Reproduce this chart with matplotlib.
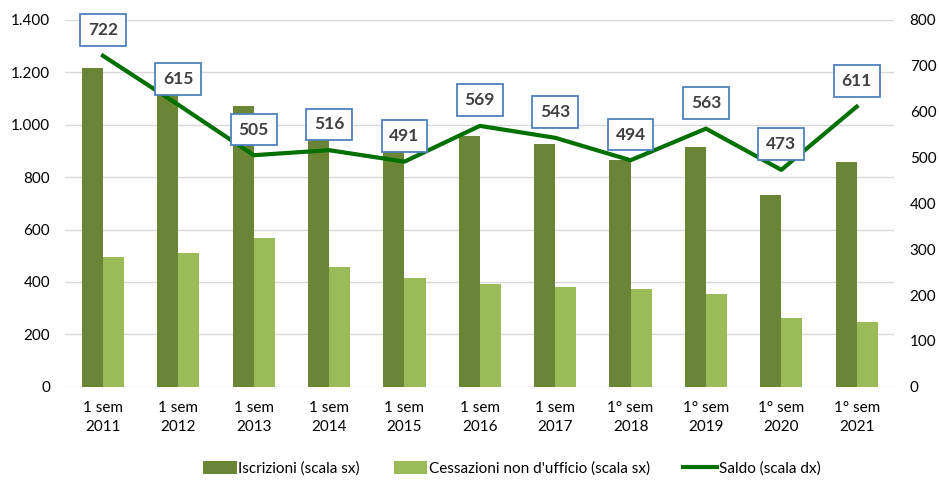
import numpy as np
import matplotlib.pyplot as plt
from matplotlib.ticker import FuncFormatter

plt.rcParams['font.family'] = ['Lato', 'DejaVu Sans']

# data
periods = ["1 sem\n2011", "1 sem\n2012", "1 sem\n2013", "1 sem\n2014", "1 sem\n2015",
           "1 sem\n2016", "1 sem\n2017", "1° sem\n2018", "1° sem\n2019", "1° sem\n2020",
           "1° sem\n2021"]
iscrizioni = [1218, 1120, 1073, 971, 906, 957, 925, 865, 914, 732, 859]
cessazioni = [496, 512, 567, 457, 414, 392, 382, 374, 353, 261, 247]
saldo = [722, 615, 505, 516, 491, 569, 543, 494, 563, 473, 611]

dark = '#6A8535'
light = '#9BBB59'
line_col = '#007000'
text_col = '#404040'

fig = plt.figure(figsize=(9.39, 4.83), dpi=100)
ax = fig.add_axes([0.0695, 0.1994, 0.883, 0.7592])
ax2 = ax.twinx()

x = np.arange(len(periods))
w = 0.28
ax.bar(x - w / 2, iscrizioni, w, color=dark, label='Iscrizioni (scala sx)', zorder=2)
ax.bar(x + w / 2, cessazioni, w, color=light, label="Cessazioni non d'ufficio (scala sx)", zorder=2)
ax2.plot(x, saldo, color=line_col, lw=3, label='Saldo (scala dx)', zorder=3)

for xi, v in zip(x, saldo):
    ax2.annotate(str(v), (xi, v), xytext=(0, 18.5), textcoords='offset points',
                 ha='center', va='center', fontsize=12.5, fontweight='bold', color=text_col,
                 bbox=dict(boxstyle='square,pad=0.45', fc='white', ec='#4F81BD', lw=1.3),
                 zorder=5)

ax.set_xlim(-0.5, len(periods) - 0.5)
ax.set_ylim(0, 1400)
ax.set_yticks(np.arange(0, 1401, 200))
ax.yaxis.set_major_formatter(FuncFormatter(lambda v, p: f"{int(v):,}".replace(',', '.')))
ax2.set_ylim(0, 800)
ax2.set_yticks(np.arange(0, 801, 100))

ax.grid(axis='y', color='#D9D9D9', lw=1, zorder=0)
ax.set_axisbelow(True)
for a in (ax, ax2):
    for s in a.spines.values():
        s.set_visible(False)
    a.tick_params(length=0, labelsize=11, colors='black')
ax.tick_params(axis='y', pad=11)
ax2.tick_params(axis='y', pad=11)
ax.set_xticks(x)
ax.set_xticklabels(periods, linespacing=1.5)
ax.tick_params(axis='x', pad=10)

h1, l1 = ax.get_legend_handles_labels()
h2, l2 = ax2.get_legend_handles_labels()
fig.legend(h1 + h2, l1 + l2, loc='center', bbox_to_anchor=(0.545, 0.03), ncol=3,
           frameon=False, fontsize=11, handlelength=2.2, handleheight=0.9,
           columnspacing=2.2, handletextpad=0.1)

fig.savefig('out.png', dpi=100)
